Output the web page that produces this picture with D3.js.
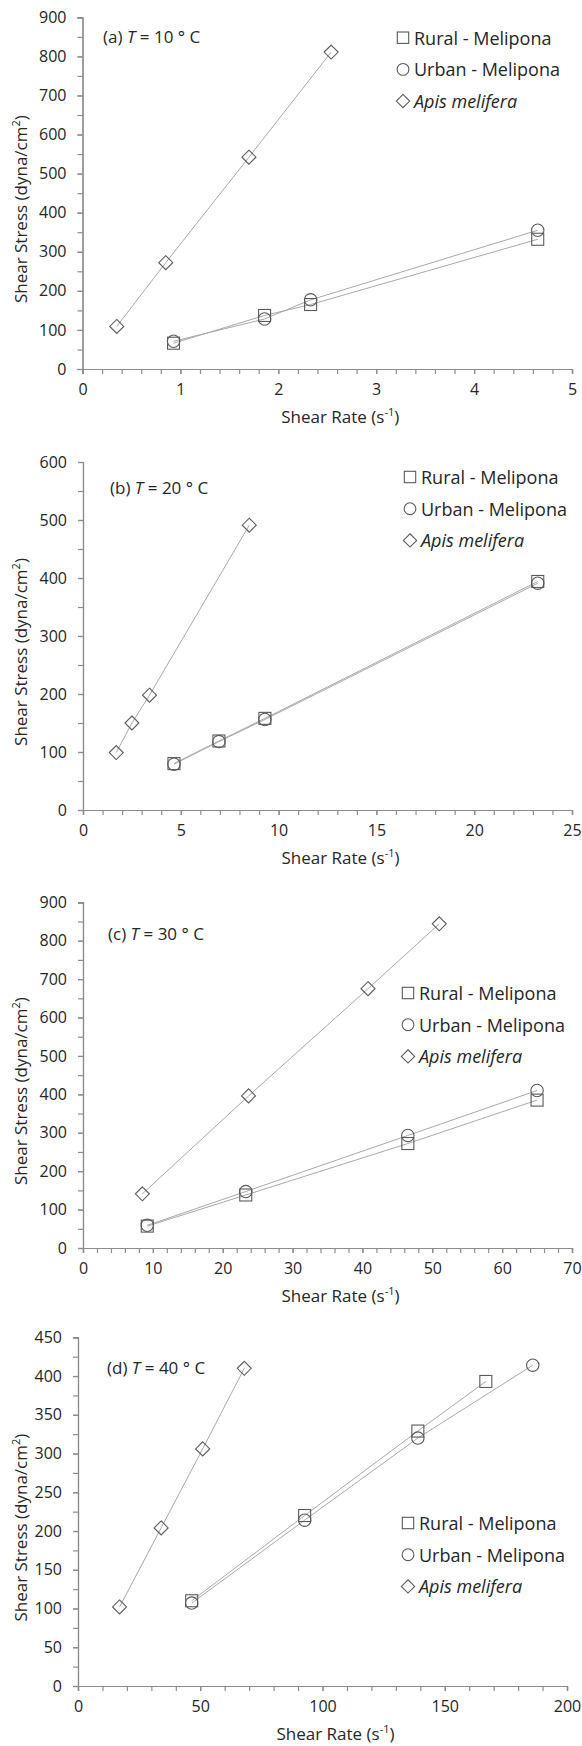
<!DOCTYPE html>
<html>
<head>
<meta charset="utf-8">
<script src="https://cdn.jsdelivr.net/npm/d3@7/dist/d3.min.js"></script>
<style>
  html, body { margin: 0; padding: 0; background: #fff; }
  svg { display: block; font-family: "Open Sans", "Noto Sans", sans-serif; }
</style>
</head>
<body>
<svg id="chart" width="582" height="1746"></svg>
<script>
// ---------- data ----------
const seriesNames = ["Rural - Melipona", "Urban - Melipona", "Apis melifera"];
const temperatures = [10, 20, 30, 40];
const panelLetters = ["a", "b", "c", "d"];

// Panel (a) T = 10 °C
const aRuralX = [0.93, 1.86, 2.33, 4.65];
const aRuralY = [66, 137, 165, 332];
const aUrbanX = [0.93, 1.86, 2.33, 4.65];
const aUrbanY = [71, 128, 177, 355];
const aApisX  = [0.35, 0.85, 1.70, 2.54];
const aApisY  = [109, 272, 542, 811];

// Panel (b) T = 20 °C
const bRuralX = [4.65, 6.95, 9.3, 23.25];
const bRuralY = [80, 119, 158, 394];
const bUrbanX = [4.65, 6.95, 9.3, 23.25];
const bUrbanY = [79, 118, 156, 391];
const bApisX  = [1.7, 2.5, 3.4, 8.5];
const bApisY  = [99, 150, 198, 491];

// Panel (c) T = 30 °C
const cRuralX = [9.2, 23.3, 46.5, 65.0];
const cRuralY = [57, 138, 272, 385];
const cUrbanX = [9.2, 23.3, 46.5, 65.0];
const cUrbanY = [59, 147, 293, 410];
const cApisX  = [8.5, 23.7, 40.8, 51.0];
const cApisY  = [141, 396, 675, 844];

// Panel (d) T = 40 °C
const dRuralX = [46.5, 92.7, 139.0, 166.8];
const dRuralY = [110, 220, 329, 393];
const dUrbanX = [46.5, 92.7, 139.0, 186.0];
const dUrbanY = [107, 214, 320, 414];
const dApisX  = [17.0, 34.0, 51.0, 68.0];
const dApisY  = [102, 204, 306, 410];

// axis ranges and tick steps
const xMaxes   = [5, 25, 70, 200];
const xMajors  = [1, 5, 10, 50];
const xMinors  = [0.2, 1, 2, 10];
const yMaxes   = [900, 600, 900, 450];
const yMajors  = [100, 100, 100, 50];
const yMinors  = [50, 50, 50, 25];

const panelData = [
  [[aRuralX, aRuralY], [aUrbanX, aUrbanY], [aApisX, aApisY]],
  [[bRuralX, bRuralY], [bUrbanX, bUrbanY], [bApisX, bApisY]],
  [[cRuralX, cRuralY], [cUrbanX, cUrbanY], [cApisX, cApisY]],
  [[dRuralX, dRuralY], [dUrbanX, dUrbanY], [dApisX, dApisY]]
];

// ---------- layout ----------
const layout = [
  {top: 17.3, bottom: 369,  left: 82.5, right: 572, labX: 103, labY: 36,   legX: 403, legY: 37.7},
  {top: 462,  bottom: 810,  left: 83,   right: 572, labX: 110, labY: 487,  legX: 410, legY: 477},
  {top: 902.3,bottom: 1248, left: 83,   right: 572, labX: 108, labY: 933,  legX: 408, legY: 993},
  {top: 1337.3,bottom:1686, left: 78,   right: 567, labX: 107, labY: 1367, legX: 408, legY: 1523}
];

const axisColor = "#8c8c8c";
const textColor = "#262626";
const markerColor = "#5a5a5a";
const lineColor = "#a8a8a8";
const markerTypes = ["square", "circle", "diamond"];

const svg = d3.select("#chart");

function drawMarker(g, type, x, y, big) {
  const s = big ? 1 : 0.95;
  if (type === "square") {
    g.append("rect").attr("x", x - 6 * s).attr("y", y - 6 * s)
      .attr("width", 12 * s).attr("height", 12 * s)
      .attr("fill", "none").attr("stroke", markerColor).attr("stroke-width", 1.1);
  } else if (type === "circle") {
    g.append("circle").attr("cx", x).attr("cy", y).attr("r", 6.2 * s)
      .attr("fill", "none").attr("stroke", markerColor).attr("stroke-width", 1.1);
  } else {
    const r = 7 * s;
    g.append("path").attr("d", `M${x},${y - r}L${x + r},${y}L${x},${y + r}L${x - r},${y}Z`)
      .attr("fill", "none").attr("stroke", markerColor).attr("stroke-width", 1.1);
  }
}

panelData.forEach((series, i) => {
  const L = layout[i];
  const x = d3.scaleLinear().domain([0, xMaxes[i]]).range([L.left, L.right]);
  const y = d3.scaleLinear().domain([0, yMaxes[i]]).range([L.bottom, L.top]);
  const g = svg.append("g");

  // x axis
  const xMajorTicks = d3.range(0, xMaxes[i] + 1e-9, xMajors[i]);
  const xMinorTicks = d3.range(0, xMaxes[i] + 1e-9, xMinors[i]);
  const xAxisMinor = d3.axisBottom(x).tickValues(xMinorTicks).tickSize(5).tickFormat("");
  const xAxis = d3.axisBottom(x).tickValues(xMajorTicks).tickSize(5).tickPadding(10).tickFormat(d3.format("d"));
  const gxm = g.append("g").attr("transform", `translate(0,${L.bottom})`).call(xAxisMinor);
  const gx = g.append("g").attr("transform", `translate(0,${L.bottom})`).call(xAxis);
  [gxm, gx].forEach(a => {
    a.select(".domain").attr("stroke", axisColor).attr("stroke-width", 1.2);
    a.selectAll(".tick line").attr("stroke", axisColor).attr("stroke-width", 1.2);
  });
  gx.selectAll(".tick text").attr("fill", textColor).attr("font-size", 16)
    .attr("font-family", "'Open Sans', sans-serif");

  // y axis
  const yMajorTicks = d3.range(0, yMaxes[i] + 1e-9, yMajors[i]);
  const yMinorTicks = d3.range(0, yMaxes[i] + 1e-9, yMinors[i]);
  const yAxisMinor = d3.axisLeft(y).tickValues(yMinorTicks).tickSize(5).tickFormat("");
  const yAxis = d3.axisLeft(y).tickValues(yMajorTicks).tickSize(5).tickPadding(11).tickFormat(d3.format("d"));
  const gym = g.append("g").attr("transform", `translate(${L.left},0)`).call(yAxisMinor);
  const gy = g.append("g").attr("transform", `translate(${L.left},0)`).call(yAxis);
  [gym, gy].forEach(a => {
    a.select(".domain").attr("stroke", axisColor).attr("stroke-width", 1.2);
    a.selectAll(".tick line").attr("stroke", axisColor).attr("stroke-width", 1.2);
  });
  gy.selectAll(".tick text").attr("fill", textColor).attr("font-size", 16)
    .attr("font-family", "'Open Sans', sans-serif");

  // axis titles
  const xt = g.append("text")
    .attr("x", (L.left + L.right) / 2 + 13).attr("y", L.bottom + 54)
    .attr("text-anchor", "middle").attr("fill", textColor).attr("font-size", 17);
  xt.append("tspan").text("Shear Rate (s");
  xt.append("tspan").attr("font-size", 11).attr("dy", -7).text("-1");
  xt.append("tspan").attr("dy", 7).text(")");

  const ymid = (L.top + L.bottom) / 2 + 16;
  const yt = g.append("text")
    .attr("transform", `translate(27,${ymid}) rotate(-90)`)
    .attr("text-anchor", "middle").attr("fill", textColor).attr("font-size", 17);
  yt.append("tspan").text("Shear Stress (dyna/cm");
  yt.append("tspan").attr("font-size", 11).attr("dy", -7).text("2");
  yt.append("tspan").attr("dy", 7).text(")");

  // panel label
  const pl = g.append("text").attr("x", L.labX).attr("y", L.labY)
    .attr("dominant-baseline", "central").attr("fill", textColor).attr("font-size", 17);
  pl.append("tspan").text(`(${panelLetters[i]}) `);
  pl.append("tspan").attr("font-style", "italic").text("T");
  pl.append("tspan").text(` = ${temperatures[i]} ° C`);

  // lines and markers
  const line = d3.line().x(d => x(d[0])).y(d => y(d[1]));
  series.forEach(([xs, ys], k) => {
    const pts = xs.map((v, j) => [v, ys[j]]);
    g.append("path").attr("d", line(pts)).attr("fill", "none")
      .attr("stroke", lineColor).attr("stroke-width", 1);
  });
  series.forEach(([xs, ys], k) => {
    xs.forEach((v, j) => drawMarker(g, markerTypes[k], x(v), y(ys[j]), true));
  });

  // legend
  seriesNames.forEach((name, k) => {
    const ly = L.legY + k * 31.7;
    drawMarker(g, markerTypes[k], L.legX, ly, false);
    g.append("text").attr("x", L.legX + 11).attr("y", ly)
      .attr("dominant-baseline", "central").attr("fill", textColor)
      .attr("font-size", 18)
      .attr("font-style", k === 2 ? "italic" : "normal")
      .text(name);
  });
});
</script>
</body>
</html>
